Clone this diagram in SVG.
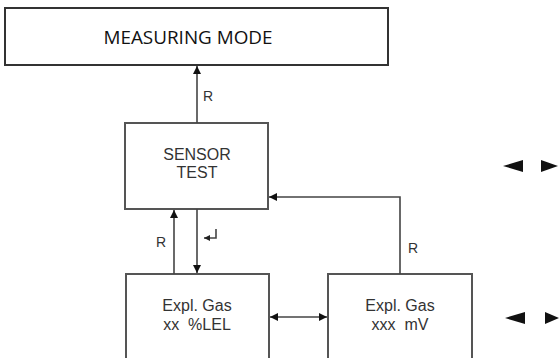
<svg xmlns="http://www.w3.org/2000/svg" width="559" height="358" viewBox="0 0 559 358">
<defs>
<style>
.box{fill:#fff;stroke:#555;stroke-width:2}
.topbox{fill:#fff;stroke:#333;stroke-width:2}
.t{font-family:"Liberation Sans",Arial,sans-serif;font-size:16px;fill:#333;text-anchor:middle;white-space:pre}
.lbl{font-family:"Liberation Sans",Arial,sans-serif;font-size:14px;fill:#333}
.ln{fill:none;stroke:#444;stroke-width:1.6}
.tri{fill:#111}
</style>
<marker id="ah" viewBox="0 0 10 10" refX="10" refY="5" markerWidth="9" markerHeight="8" markerUnits="userSpaceOnUse" orient="auto-start-reverse">
<path d="M0,0 L10,5 L0,10 Z" fill="#111"/>
</marker>
<marker id="ahs" viewBox="0 0 10 10" refX="10" refY="5" markerWidth="6" markerHeight="6" markerUnits="userSpaceOnUse" orient="auto">
<path d="M0,0 L10,5 L0,10 Z" fill="#222"/>
</marker>
</defs>
<rect width="559" height="358" fill="#fff"/>
<g id="measuring-mode">
<rect class="topbox" x="5" y="8" width="383" height="57"/>
<text x="188" y="44" font-family="'Open Sans','Liberation Sans',sans-serif" font-size="19" fill="#111" text-anchor="middle" textLength="169" lengthAdjust="spacingAndGlyphs">MEASURING MODE</text>
</g>
<g id="sensor-test">
<rect class="box" x="125" y="123" width="143" height="86"/>
<text class="t" x="197" y="160">SENSOR</text>
<text class="t" x="197" y="178">TEST</text>
</g>
<g id="expl-gas-lel">
<rect class="box" x="126" y="274" width="143" height="90"/>
<text class="t" x="197" y="311">Expl. Gas</text>
<text class="t" x="197" y="330">xx  %LEL</text>
</g>
<g id="expl-gas-mv">
<rect class="box" x="328" y="274" width="144" height="90"/>
<text class="t" x="400" y="311">Expl. Gas</text>
<text class="t" x="400" y="330">xxx  mV</text>
</g>
<g id="connectors">
<line class="ln" x1="197" y1="123" x2="197" y2="66" marker-end="url(#ah)"/>
<text class="lbl" x="203" y="101">R</text>
<line class="ln" x1="174" y1="274" x2="174" y2="210" marker-end="url(#ah)"/>
<text class="lbl" x="156" y="247">R</text>
<line class="ln" x1="197" y1="209" x2="197" y2="273" marker-end="url(#ah)"/>
<path class="ln" d="M216,229 V238 H204" marker-end="url(#ahs)"/>
<path class="ln" d="M400,274 V197 H269" marker-end="url(#ah)"/>
<text class="lbl" x="408" y="253">R</text>
<line class="ln" x1="270" y1="317" x2="327" y2="317" marker-start="url(#ah)" marker-end="url(#ah)"/>
</g>
<g id="nav-upper">
<polygon class="tri" points="503,166 523,160 523,172"/>
<polygon class="tri" points="541,160 558,166 541,172"/>
</g>
<g id="nav-lower">
<polygon class="tri" points="505,318 525,312 525,324"/>
<polygon class="tri" points="545,312 559,318 545,324"/>
</g>
</svg>
